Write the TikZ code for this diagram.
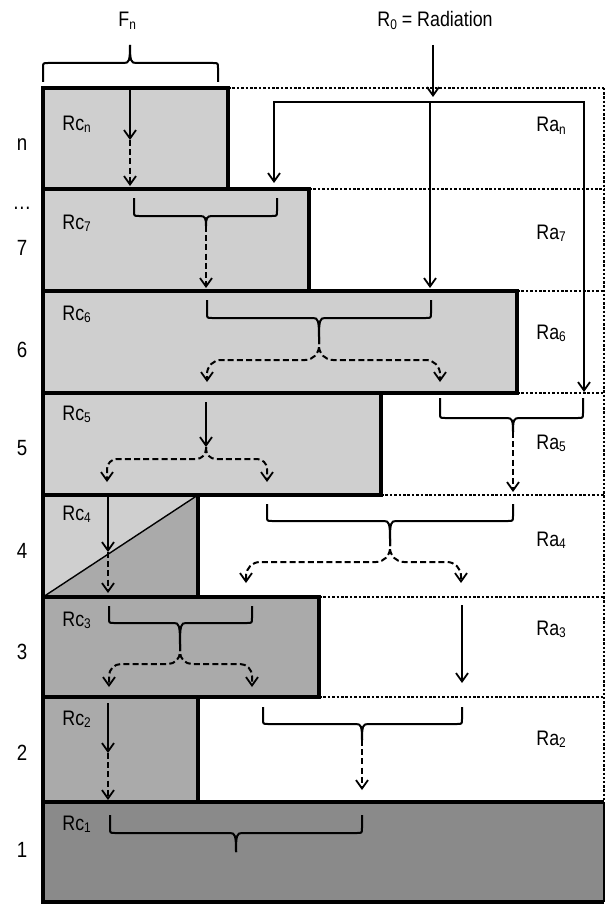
\documentclass[tikz,border=0pt]{standalone}
\usepackage{fontspec}
\setmainfont{Liberation Sans}[FakeStretch=0.85]
\usetikzlibrary{arrows.meta}
\definecolor{lightg}{gray}{0.81}
\definecolor{midg}{gray}{0.665}
\definecolor{darkg}{gray}{0.54}
\newcommand\sub[1]{\raisebox{-1.4pt}{\fontsize{7}{7}\selectfont #1}}
% downward brace: x1 x2 xm ytop ybot ytip
\newcommand\bracedn[6]{%
  \draw[brc] (#1,#4) -- (#1,#5-5) .. controls (#1,#5) .. (#1+5,#5) -- (#3-6,#5)
    .. controls (#3-1,#5) and (#3,#5+2) .. (#3,#6);
  \draw[brc] (#3,#6) .. controls (#3,#5+2) and (#3+1,#5) .. (#3+6,#5) -- (#2-5,#5)
    .. controls (#2,#5) .. (#2,#5-5) -- (#2,#4);}
\tikzset{
  box/.style={draw=black, line width=1.6pt},
  dotline/.style={line width=1.4pt, dash pattern=on 1.3pt off 0.9pt},
  vdotline/.style={line width=1pt, dash pattern=on 1.2pt off 0.9pt},
  arr/.style={line width=0.9pt, -{Straight Barb[length=4.2pt,width=6pt,line width=0.9pt]}},
  darr/.style={arr, line width=1pt, dash pattern=on 3pt off 1.6pt},
  brc/.style={line width=1pt},
  lbl/.style={font=\fontsize{10.5}{12}\selectfont, inner sep=0pt, anchor=base west},
  num/.style={font=\fontsize{11}{12}\selectfont, inner sep=0pt, anchor=base},
}
\begin{document}
\begin{tikzpicture}[x=0.5pt,y=-0.5pt]
\useasboundingbox (0,0) rectangle (606,904);
% fills
\fill[lightg] (43,88) rectangle (228,189);
\fill[lightg] (43,189) rectangle (309,291);
\fill[lightg] (43,291) rectangle (517,393);
\fill[lightg] (43,393) rectangle (381,495);
\fill[lightg] (43,495) rectangle (198,597);
\fill[midg] (43,597) -- (198,495) -- (198,597) -- cycle;
\fill[midg] (43,597) rectangle (319,697);
\fill[midg] (43,697) rectangle (198,802);
\fill[darkg] (43,802) rectangle (604,902);
\draw[line width=0.7pt] (43,597) -- (198,495);
% dotted lines
\draw[dotline] (228,88) -- (604,88);
\draw[dotline] (309,189) -- (604,189);
\draw[dotline] (517,291) -- (604,291);
\draw[dotline] (517,393) -- (604,393);
\draw[dotline] (381,495) -- (604,495);
\draw[dotline] (319,597) -- (604,597);
\draw[dotline] (319,697) -- (604,697);
\draw[vdotline] (604,88) -- (604,802);
% box borders
\draw[box] (43,88) rectangle (228,189);
\draw[box] (43,189) rectangle (309,291);
\draw[box] (43,291) rectangle (517,393);
\draw[box] (43,393) rectangle (381,495);
\draw[box] (43,495) rectangle (198,597);
\draw[box] (43,597) rectangle (319,697);
\draw[box] (43,697) rectangle (198,802);
\draw[box] (604,802) -- (43,802) -- (43,902) -- (604,902);
\draw[line width=0.8pt] (604,802) -- (604,902);
% header
\node[lbl] (fn) at (118,27) {F\sub{n}};
\node[lbl] (r0) at (377,27) {R\sub{0} = Radiation};
\draw[brc] (43,82) -- (43,68) .. controls (43,63) .. (48,63) -- (124,63)
  .. controls (129,63) and (130,61) .. (130,45);
\draw[brc] (130,45) .. controls (130,61) and (131,63) .. (136,63) -- (213,63)
  .. controls (218,63) .. (218,68) -- (218,82);
% radiation arrows
\coordinate (r0top) at (433,45);
\coordinate (r0end) at (433,97);
\draw[arr] (r0top) -- (r0end);
\coordinate (split) at (430,102);
\draw[arr] (split) -- (274,102) -- (274,183);
\draw[arr] (split) -- (584,102) -- (584,392);
\draw[arr] (split) -- (430,288);
% layer n
\draw[arr] (130,89) -- (130,140);
\draw[darr] (130,140) -- (130,186);
% layer 7
\bracedn{134}{277}{206}{198}{216}{226}
\draw[darr] (206,226) -- (206,288);
% layer 6
\bracedn{207}{431}{319}{300}{318}{338}
\draw[darr, rounded corners=7pt] (319,338) -- (319,360) -- (207,360) -- (207,382);
\draw[darr, rounded corners=7pt] (319,338) -- (319,360) -- (440,360) -- (440,382);
% layer 5
\draw[arr] (206,402) -- (206,447);
\draw[darr, rounded corners=5pt] (206,447) -- (206,459) -- (107,459) -- (107,482);
\draw[darr, rounded corners=5pt] (206,447) -- (206,459) -- (267,459) -- (267,482);
\bracedn{440}{583}{513}{398}{418}{432}
\draw[darr] (513,432) -- (513,492);
% layer 4
\draw[arr] (108,496) -- (108,552);
\draw[darr] (108,552) -- (108,593);
\bracedn{267}{513}{390}{504}{521}{540}
\draw[darr, rounded corners=7pt] (390,540) -- (390,562) -- (246,562) -- (246,583);
\draw[darr, rounded corners=7pt] (390,540) -- (390,562) -- (461,562) -- (461,583);
% layer 3
\bracedn{109}{252}{180}{606}{623}{645}
\draw[darr, rounded corners=6pt] (180,645) -- (180,664) -- (109,664) -- (109,687);
\draw[darr, rounded corners=6pt] (180,645) -- (180,664) -- (252,664) -- (252,687);
\draw[arr] (462,605) -- (462,683);
% layer 2
\draw[arr] (108,703) -- (108,753);
\draw[darr] (108,753) -- (108,800);
\bracedn{263}{462}{362}{707}{724}{740}
\draw[darr] (362,740) -- (362,790);
% layer 1
\bracedn{110}{362}{236}{815}{833}{852}
% Rc labels
\node[lbl] (rcn) at (62,130) {Rc\sub{n}};
\node[lbl] (rc7) at (62,229) {Rc\sub{7}};
\node[lbl] (rc6) at (62,320) {Rc\sub{6}};
\node[lbl] (rc5) at (62,420) {Rc\sub{5}};
\node[lbl] (rc4) at (62,520) {Rc\sub{4}};
\node[lbl] (rc3) at (62,626) {Rc\sub{3}};
\node[lbl] (rc2) at (62,725) {Rc\sub{2}};
\node[lbl] (rc1) at (62,830) {Rc\sub{1}};
% Ra labels
\node[lbl] (ran) at (536,132) {Ra\sub{n}};
\node[lbl] (ra7) at (536,239) {Ra\sub{7}};
\node[lbl] (ra6) at (536,339) {Ra\sub{6}};
\node[lbl] (ra5) at (536,449) {Ra\sub{5}};
\node[lbl] (ra4) at (536,546) {Ra\sub{4}};
\node[lbl] (ra3) at (536,635) {Ra\sub{3}};
\node[lbl] (ra2) at (536,745) {Ra\sub{2}};
% layer numbers
\node[num] (ln) at (22,150) {n};
\node[num] (ldots) at (22,209) {\dots};
\node[num] (l7) at (22,255) {7};
\node[num] (l6) at (22,357) {6};
\node[num] (l5) at (22,455) {5};
\node[num] (l4) at (22,558) {4};
\node[num] (l3) at (22,659) {3};
\node[num] (l2) at (22,760) {2};
\node[num] (l1) at (22,857) {1};
\end{tikzpicture}
\end{document}
